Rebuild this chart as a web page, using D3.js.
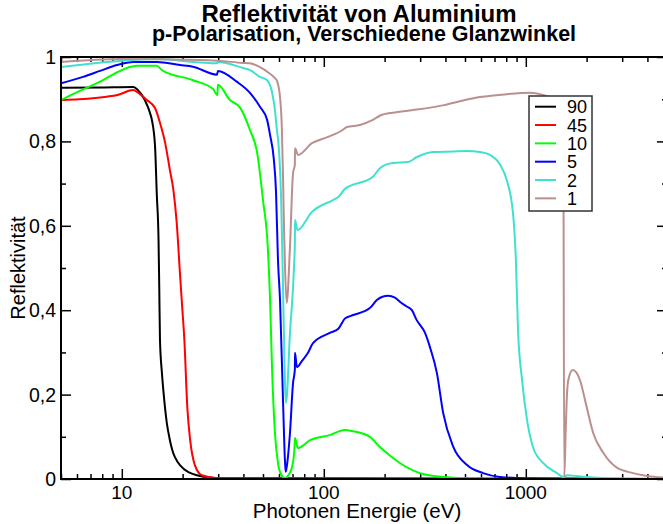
<!DOCTYPE html>
<html lang="de">
<head>
<meta charset="utf-8">
<title>Reflektivität von Aluminium</title>
<script src="https://d3js.org/d3.v7.min.js"></script>
<style>
  body { margin: 0; background: #fff; }
  text { font-family: "Liberation Sans", Arial, sans-serif; fill: #000; }
</style>
</head>
<body>
<script>
// angles (Glanzwinkel) and their colours
var angles = ["90", "45", "10", "5", "2", "1"];
var colors = ["#000000", "#ff0000", "#00ff00", "#0000ff", "#40e0d0", "#bc8f8f"];

// [photon energy (eV), reflectivity]
var r90 = [[5,0.927],[8,0.928],[11.4,0.929],[12.0,0.922],[13.0,0.898],[13.8,0.867],[14.1,0.85],[14.6,0.79],
  [14.9,0.675],[15.2,0.566],[15.33,0.448],[15.45,0.33],[15.8,0.251],[16.05,0.211],[16.7,0.133],[17.3,0.092],
  [19.4,0.033],[23.5,0.009],[29.5,0.002],[5000,0]];
var r45 = [[5,0.898],[8.4,0.906],[9.5,0.91],[11.1,0.921],[11.4,0.922],[12.3,0.912],[13.3,0.898],[14.6,0.879],
  [15.45,0.844],[16.4,0.796],[17.3,0.732],[18.0,0.685],[18.7,0.607],[19.4,0.488],[19.9,0.408],[20.4,0.33],
  [21.1,0.17],[21.8,0.092],[23.0,0.033],[24.9,0.009],[30,0.002],[5000,0]];
var r10 = [[5,0.898],[5.73,0.912],[7.53,0.938],[11.4,0.978],[11.9,0.979],[14.9,0.979],[15.8,0.969],[22.5,0.945],
  [28.3,0.924],[29.7,0.91],[29.9,0.934],[34.3,0.898],[38.5,0.88],[43.1,0.827],[46.7,0.775],[50.0,0.661],
  [52.9,0.543],[54.2,0.424],[55.4,0.265],[57.3,0.109],[59.3,0.038],[61.5,0.01],[64.3,0.002],[67.0,0.01],
  [69.6,0.028],[71.5,0.07],[72.0,0.097],[74.5,0.073],[85.5,0.092],[107,0.104],[127,0.116],[140,0.113],
  [169,0.10],[190,0.075],[213,0.055],[238,0.038],[299,0.014],[389,0.005],[600,0.001],[5000,0]];
var r5 = [[5,0.938],[6.43,0.953],[7.8,0.967],[9.47,0.981],[11.4,0.988],[14.9,0.988],[19.4,0.981],[22.5,0.977],
  [29.6,0.958],[29.9,0.967],[37.2,0.941],[43.1,0.915],[48.3,0.882],[52.4,0.851],[54.2,0.815],[56.5,0.76],
  [58.0,0.68],[59.3,0.52],[60.7,0.424],[62.8,0.187],[64.3,0.038],[64.8,0.017],[66.0,0.04],[68.0,0.109],
  [70.4,0.227],[71.9,0.26],[72.0,0.299],[73.6,0.265],[78,0.28],[83.5,0.299],[88.4,0.322],[107,0.346],
  [118,0.356],[127,0.38],[135,0.386],[169,0.405],[183,0.424],[195,0.432],[208,0.434],[225,0.43],[238,0.42],
  [255,0.41],[273,0.40],[288,0.377],[317,0.346],[335,0.313],[363,0.251],[390,0.156],[437,0.077],[512,0.033],
  [614,0.014],[745,0.005],[1002,0.002],[5000,0]];
var r2 = [[5,0.976],[7.5,0.986],[11.4,0.993],[14.9,0.995],[24.4,0.987],[29.6,0.985],[29.9,0.988],[39.8,0.974],
  [43.1,0.969],[48.3,0.953],[52.4,0.945],[55.4,0.917],[57.3,0.874],[58.5,0.83],[59.5,0.80],[60.5,0.75],
  [61.5,0.66],[62.3,0.54],[63.0,0.424],[65.0,0.18],[68.0,0.346],[71.2,0.502],[71.9,0.56],[72.0,0.614],
  [74.0,0.59],[87.4,0.633],[111,0.661],[118,0.668],[127,0.687],[175,0.716],[190,0.737],[220,0.749],
  [261,0.751],[289,0.763],[347,0.775],[436,0.776],[512,0.777],[593,0.775],[665,0.768],[745,0.745],
  [804,0.709],[864,0.63],[894,0.512],[915,0.353],[958,0.235],[1014,0.14],[1085,0.076],[1217,0.038],
  [1427,0.014],[1546,0.004],[1600,0.009],[1700,0.008],[2000,0.005],[3394,0.001],[5000,0]];
var r1 = [[5,0.988],[9.8,0.995],[24.4,0.993],[29.9,0.991],[39.8,0.986],[43.1,0.985],[48.3,0.976],[52.9,0.964],
  [57.3,0.95],[58.6,0.944],[60.7,0.905],[62.0,0.83],[62.8,0.72],[63.5,0.6],[64.3,0.5],[65.5,0.417],
  [68.0,0.55],[70.4,0.725],[71.9,0.745],[72.0,0.784],[74.5,0.768],[87.4,0.796],[104,0.81],[124,0.827],
  [130,0.834],[151,0.839],[175,0.851],[194,0.863],[238,0.87],[255,0.872],[394,0.886],[500,0.898],
  [593,0.905],[807,0.912],[1049,0.915],[1217,0.91],[1400,0.9],[1532,0.89],[1550,0.004],[1576,0.116],
  [1594,0.187],[1624,0.235],[1707,0.258],[1855,0.234],[2000,0.171],[2155,0.109],[2418,0.062],[2800,0.028],
  [3394,0.014],[3981,0.007],[5000,0.003]];
var series = [r90, r45, r10, r5, r2, r1];

var xMajor = [10, 100, 1000];
var yTicks = [0, 0.2, 0.4, 0.6, 0.8, 1];

var w = 663, h = 524;
var pL = 61, pR = 667, pT = 57, pB = 479;

var x = d3.scaleLog().domain([5, 5000]).range([pL, pR]);
var y = d3.scaleLinear().domain([0, 1]).range([pB, pT]);

var xMinor = [];
[1, 10, 100, 1000].forEach(function(d) {
  for (var k = 2; k <= 9; k++) if (d * k >= 5 && d * k <= 5000) xMinor.push(d * k);
});
var yMinor = [0.1, 0.3, 0.5, 0.7, 0.9];

var svg = d3.select("body").append("svg")
  .attr("width", w).attr("height", h);

svg.append("rect").attr("width", w).attr("height", h).attr("fill", "#fff");

// axes, ticks pointing inward
function ticks(gen, values, size, pos) {
  var g = svg.append("g")
    .attr("transform", pos)
    .call(gen.tickValues(values).tickSize(-size).tickFormat(""));
  g.select(".domain").remove();
  g.selectAll("line").attr("stroke", "#000").attr("stroke-width", 1.5);
  return g;
}
ticks(d3.axisBottom(x), xMajor, 10, "translate(0," + pB + ")");
ticks(d3.axisBottom(x), xMinor, 5, "translate(0," + pB + ")");
ticks(d3.axisTop(x), xMajor, 10, "translate(0," + pT + ")");
ticks(d3.axisTop(x), xMinor, 5, "translate(0," + pT + ")");
ticks(d3.axisLeft(y), yTicks, 10, "translate(" + pL + ",0)");
ticks(d3.axisLeft(y), yMinor, 5, "translate(" + pL + ",0)");
ticks(d3.axisRight(y), yTicks, 10, "translate(" + pR + ",0)");
ticks(d3.axisRight(y), yMinor, 5, "translate(" + pR + ",0)");

// tick labels
svg.append("g").selectAll("text").data(xMajor).enter().append("text")
  .attr("x", d => x(d)).attr("y", 499)
  .attr("text-anchor", "middle").style("font-size", "19px")
  .text(d => d);
svg.append("g").selectAll("text").data(yTicks).enter().append("text")
  .attr("x", 56).attr("y", d => y(d) + 7)
  .attr("text-anchor", "end").style("font-size", "19.5px")
  .text(d => String(d).replace(".", ","));

// curves
svg.append("clipPath").attr("id", "clip")
  .append("rect").attr("x", pL).attr("y", pT)
  .attr("width", pR - pL).attr("height", pB - pT);

var line = d3.line()
  .x(d => x(d[0])).y(d => y(d[1]))
  .curve(d3.curveMonotoneX);

svg.append("g").attr("clip-path", "url(#clip)")
  .selectAll("path").data(series).enter().append("path")
  .attr("d", line)
  .attr("fill", "none")
  .attr("stroke", (d, i) => colors[i])
  .attr("stroke-width", 2)
  .attr("stroke-linejoin", "round");

// frame
svg.append("rect")
  .attr("x", pL).attr("y", pT)
  .attr("width", pR - pL).attr("height", pB - pT)
  .attr("fill", "none").attr("stroke", "#000").attr("stroke-width", 2);

// legend
var lg = svg.append("g");
lg.append("rect")
  .attr("x", 529).attr("y", 96).attr("width", 63).attr("height", 115)
  .attr("fill", "#fff").attr("stroke", "#333").attr("stroke-width", 1.5);
var item = lg.selectAll("g.item").data(angles).enter().append("g")
  .attr("transform", (d, i) => "translate(0," + (106.7 + i * 18.33) + ")");
item.append("line")
  .attr("x1", 535).attr("x2", 556)
  .attr("stroke", (d, i) => colors[i]).attr("stroke-width", 2);
item.append("text")
  .attr("x", 567).attr("y", 6.5)
  .style("font-size", "18px")
  .text(d => d);

// titles and axis labels
svg.append("text")
  .attr("x", 359).attr("y", 22)
  .attr("text-anchor", "middle")
  .style("font-size", "24px").style("font-weight", "bold")
  .text("Reflektivität von Aluminium");
svg.append("text")
  .attr("x", 364).attr("y", 41)
  .attr("text-anchor", "middle")
  .style("font-size", "21.5px").style("font-weight", "bold")
  .text("p-Polarisation, Verschiedene Glanzwinkel");
svg.append("text")
  .attr("x", 357).attr("y", 518)
  .attr("text-anchor", "middle")
  .style("font-size", "20.5px")
  .text("Photonen Energie (eV)");
svg.append("text")
  .attr("transform", "translate(25,268) rotate(-90)")
  .attr("text-anchor", "middle")
  .style("font-size", "20px")
  .text("Reflektivität");
</script>
</body>
</html>
